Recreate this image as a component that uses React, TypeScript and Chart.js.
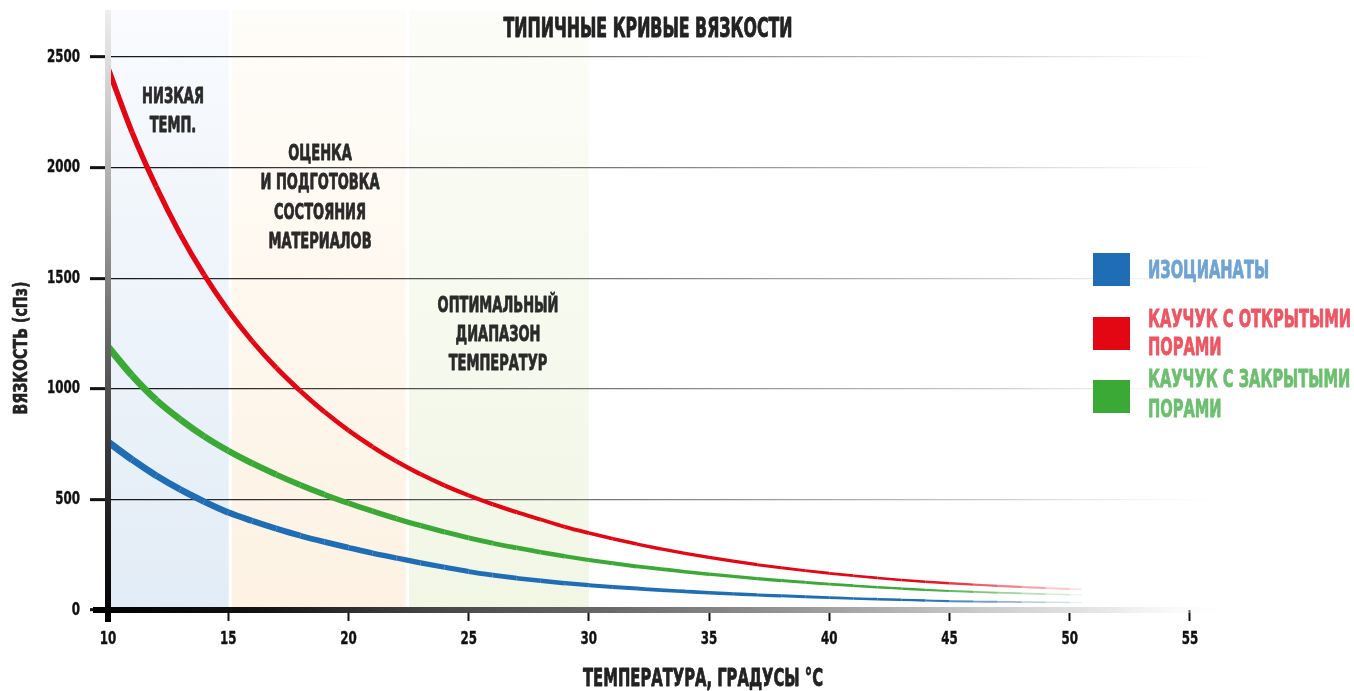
import React, { useEffect, useRef } from "react";
import { Chart, registerables } from "chart.js";

Chart.register(...registerables);

// ---------- data ----------
const temperatures = [
  10, 11, 12, 13, 14, 15, 16, 17, 18, 19, 20, 21, 22, 23, 24, 25, 26, 27, 28, 29, 30,
  31, 32, 33, 34, 35, 36, 37, 38, 39, 40, 41, 42, 43, 44, 45, 46, 47, 48, 49, 50, 50.5,
];
const isocyanates = [
  760, 680, 608, 545, 490, 441, 403, 368, 336, 308, 282, 257, 235, 213, 193, 174, 158, 144, 132, 121, 112,
  104, 97, 90, 84, 78, 73, 68, 64, 60, 56, 52, 49, 46, 43, 40, 38, 37, 36, 35, 34, 34,
];
const openCellRubber = [
  2450, 2160, 1915, 1700, 1515, 1354, 1215, 1095, 990, 896, 812, 738, 672, 614, 563, 518, 478, 442, 409, 376, 348,
  322, 298, 276, 256, 238, 221, 205, 191, 178, 166, 155, 145, 136, 128, 121, 115, 109, 104, 99, 95, 93,
];
const closedCellRubber = [
  1190, 1060, 950, 862, 785, 720, 663, 612, 565, 522, 483, 447, 413, 382, 353, 326, 302, 281, 261, 243, 226,
  211, 197, 185, 173, 162, 152, 142, 133, 125, 117, 110, 103, 97, 91, 86, 82, 78, 75, 72, 69, 68,
];
const xTickValues = [10, 15, 20, 25, 30, 35, 40, 45, 50, 55];
const yTickValues = [0, 500, 1000, 1500, 2000, 2500];
const bandStarts = [10, 15.15, 22.52];
const bandEnds = [15.02, 22.38, 30];
const bandLabels = [
  ["НИЗКАЯ", "ТЕМП."],
  ["ОЦЕНКА", "И ПОДГОТОВКА", "СОСТОЯНИЯ", "МАТЕРИАЛОВ"],
  ["ОПТИМАЛЬНЫЙ", "ДИАПАЗОН", "ТЕМПЕРАТУР"],
];
const seriesNames = [
  ["ИЗОЦИАНАТЫ"],
  ["КАУЧУК С ОТКРЫТЫМИ", "ПОРАМИ"],
  ["КАУЧУК С ЗАКРЫТЫМИ", "ПОРАМИ"],
];
const chartTitle = "ТИПИЧНЫЕ КРИВЫЕ ВЯЗКОСТИ";
const xTitle = "ТЕМПЕРАТУРА, ГРАДУСЫ °С";
const yTitle = "ВЯЗКОСТЬ (сПз)";

// ---------- styles ----------
const FONT = '"Liberation Sans Narrow", "DejaVu Sans Condensed", "Liberation Sans", sans-serif';
const LINE_RGB: [number, number, number][] = [
  [31, 109, 181],
  [227, 6, 19],
  [58, 169, 53],
];
const SWATCH = ["#1f6db5", "#e30613", "#3aa935"];
const LEGEND_TEXT = ["#6ea3d4", "#ee5562", "#6bbf6e"];
const BAND_COLORS = [
  ["#f9fbfe", "#e2ecf6"],
  ["#fffdf9", "#fdf2e3"],
  ["#fcfdf8", "#f1f6e5"],
];

function segStyle(rgb: [number, number, number], w0: number, slope: number) {
  const mid = (c: any) => (c.p0.parsed.x + c.p1.parsed.x) / 2;
  return {
    borderWidth: (c: any) => Math.max(1.3, w0 - slope * (mid(c) - 10)),
    borderColor: (c: any) => {
      const t = mid(c);
      const a = t < 44 ? 1 : Math.max(0.1, 1 - (t - 44) / 7);
      return `rgba(${rgb[0]},${rgb[1]},${rgb[2]},${a})`;
    },
  };
}

function measure(ctx: CanvasRenderingContext2D, s: string, size: number) {
  ctx.font = `bold ${size}px ${FONT}`;
  return ctx.measureText(s).width;
}

function fitRatio(ctx: CanvasRenderingContext2D, sample: string, size: number, target: number) {
  return Math.min(1, target / measure(ctx, sample, size));
}

function text(
  ctx: CanvasRenderingContext2D,
  s: string,
  x: number,
  y: number,
  size: number,
  color: string,
  align: CanvasTextAlign,
  ratio: number,
  heavy = 0.7
) {
  const w = measure(ctx, s, size);
  ctx.fillStyle = color;
  ctx.strokeStyle = color;
  ctx.lineJoin = "round";
  ctx.textAlign = align;
  ctx.textBaseline = "middle";
  ctx.fillText(s, x, y, w * ratio);
  if (heavy > 0) {
    ctx.lineWidth = heavy;
    ctx.strokeText(s, x, y, w * ratio);
  }
}

const decorPlugin = {
  id: "decor",
  beforeDraw(chart: any) {
    const { ctx, scales } = chart;
    const xs = scales.x;
    const ys = scales.y;
    const top = 10;
    const bottom = ys.getPixelForValue(0);
    ctx.save();
    bandStarts.forEach((s, i) => {
      const x0 = xs.getPixelForValue(s);
      const x1 = xs.getPixelForValue(bandEnds[i]);
      const g = ctx.createLinearGradient(0, top, 0, bottom);
      g.addColorStop(0, BAND_COLORS[i][0]);
      g.addColorStop(1, BAND_COLORS[i][1]);
      ctx.fillStyle = g;
      ctx.fillRect(x0, top, x1 - x0, bottom - top);
    });
    ctx.restore();
  },
  afterDatasetsDraw(chart: any) {
    const { ctx, scales } = chart;
    const xs = scales.x;
    const ys = scales.y;
    const x0 = xs.getPixelForValue(10);
    const y0 = ys.getPixelForValue(0);
    ctx.save();
    // x axis bar
    const gx = ctx.createLinearGradient(x0 - 15, 0, 1240, 0);
    gx.addColorStop(0, "#000");
    gx.addColorStop(0.14, "#111");
    gx.addColorStop(0.29, "#444");
    gx.addColorStop(0.44, "#666");
    gx.addColorStop(0.62, "#999");
    gx.addColorStop(0.79, "#d0d0d0");
    gx.addColorStop(0.88, "#e6e6e6");
    gx.addColorStop(1, "rgba(255,255,255,0)");
    ctx.fillStyle = gx;
    ctx.fillRect(x0 - 15, y0 - 3, 1240 - (x0 - 15), 6);
    // y axis bar
    const gy = ctx.createLinearGradient(0, 10, 0, y0 + 12);
    gy.addColorStop(0, "#eeeeee");
    gy.addColorStop(0.1, "#d8d8d8");
    gy.addColorStop(0.3, "#aaaaaa");
    gy.addColorStop(0.6, "#555555");
    gy.addColorStop(0.85, "#1a1a1a");
    gy.addColorStop(1, "#000");
    ctx.fillStyle = gy;
    ctx.fillRect(x0 - 3, 10, 6, y0 + 12 - 10);
    ctx.restore();
  },
  afterDraw(chart: any) {
    const { ctx, scales } = chart;
    const xs = scales.x;
    const ys = scales.y;
    ctx.save();
    // tick labels (values from the scales)
    const tickR = fitRatio(ctx, "2500", 18, 33);
    xs.ticks.forEach((t: any) => {
      text(ctx, String(t.value), xs.getPixelForValue(t.value), 639, 18, "#111", "center", tickR, 0.4);
    });
    ys.ticks.forEach((t: any) => {
      text(ctx, String(t.value), 80, ys.getPixelForValue(t.value), 18, "#111", "right", tickR, 0.4);
    });
    // title
    text(ctx, chartTitle, 648, 30, 27, "#222", "center", fitRatio(ctx, chartTitle, 27, 289), 0.9);
    // band labels
    const bandR = fitRatio(ctx, "И ПОДГОТОВКА", 22, 119);
    const bandX = [173, 320, 498];
    const bandY = [97, 154.5, 306];
    bandLabels.forEach((lines, i) => {
      lines.forEach((ln, j) => text(ctx, ln, bandX[i], bandY[i] + j * 29.2, 22, "#2a2a2a", "center", bandR, 0.8));
    });
    // axis titles
    text(ctx, xTitle, 703, 679, 25, "#222", "center", fitRatio(ctx, xTitle, 25, 240), 0.8);
    ctx.save();
    ctx.translate(22, 348);
    ctx.rotate(-Math.PI / 2);
    text(ctx, yTitle, 0, 0, 20, "#222", "center", fitRatio(ctx, yTitle, 20, 133), 0.6);
    ctx.restore();
    // legend
    const legR = fitRatio(ctx, "КАУЧУК С ОТКРЫТЫМИ", 25, 203);
    const swatchTop = [253, 317, 380];
    const legendY = [[271.5], [320, 348.5], [380.5, 410]];
    seriesNames.forEach((lines, i) => {
      ctx.fillStyle = SWATCH[i];
      ctx.fillRect(1093, swatchTop[i], 37, 33);
      lines.forEach((ln, j) => text(ctx, ln, 1148, legendY[i][j], 25, LEGEND_TEXT[i], "left", legR, 0.8));
    });
    ctx.restore();
  },
};

export default function App() {
  const ref = useRef<HTMLCanvasElement>(null);
  useEffect(() => {
    const canvas = ref.current!;
    const pts = (arr: number[]) => temperatures.map((t, i) => ({ x: t, y: arr[i] }));
    let gridGrad: any = null;
    const chart = new Chart(canvas, {
      type: "line",
      data: {
        datasets: [
          {
            label: seriesNames[0].join(" "),
            data: pts(isocyanates),
            borderColor: SWATCH[0],
            borderWidth: 7,
            pointRadius: 0,
            cubicInterpolationMode: "monotone",
            segment: segStyle(LINE_RGB[0], 7, 0.14),
          },
          {
            label: seriesNames[1].join(" "),
            data: pts(openCellRubber),
            borderColor: SWATCH[1],
            borderWidth: 5.5,
            pointRadius: 0,
            cubicInterpolationMode: "monotone",
            segment: segStyle(LINE_RGB[1], 5.5, 0.09),
          },
          {
            label: seriesNames[2].join(" "),
            data: pts(closedCellRubber),
            borderColor: SWATCH[2],
            borderWidth: 7,
            pointRadius: 0,
            cubicInterpolationMode: "monotone",
            segment: segStyle(LINE_RGB[2], 7, 0.14),
          },
        ],
      } as any,
      options: {
        responsive: false,
        animation: false,
        devicePixelRatio: 1,
        layout: { padding: { top: 57, right: 116, bottom: 0, left: 0 } },
        plugins: { legend: { display: false }, tooltip: { enabled: false } },
        scales: {
          x: {
            type: "linear",
            min: 10,
            max: 57,
            afterFit: (s: any) => {
              s.height = 81;
            },
            afterBuildTicks: (s: any) => {
              s.ticks = xTickValues.map((v) => ({ value: v }));
            },
            border: { display: false },
            grid: {
              drawOnChartArea: false,
              drawTicks: true,
              tickLength: 11,
              tickWidth: 2,
              tickColor: "#111",
            },
            ticks: { display: false, autoSkip: false },
          },
          y: {
            type: "linear",
            min: 0,
            max: 2500,
            afterFit: (s: any) => {
              s.width = 108;
            },
            afterBuildTicks: (s: any) => {
              s.ticks = yTickValues.map((v) => ({ value: v }));
            },
            border: { display: false },
            grid: {
              drawTicks: true,
              tickLength: 18,
              tickWidth: 3,
              tickColor: "#111",
              lineWidth: 1.3,
              color: (c: any) => {
                if (c.index === 0) return "rgba(0,0,0,0)";
                const area = c.chart.chartArea;
                if (!area) return "#888";
                if (!gridGrad) {
                  const g = c.chart.ctx.createLinearGradient(area.left, 0, 1225, 0);
                  g.addColorStop(0, "rgba(20,20,20,1)");
                  g.addColorStop(0.45, "rgba(120,120,120,1)");
                  g.addColorStop(0.8, "rgba(205,205,205,1)");
                  g.addColorStop(1, "rgba(235,235,235,0)");
                  gridGrad = g;
                }
                return gridGrad;
              },
            },
            ticks: { display: false, autoSkip: false },
          },
        },
      } as any,
      plugins: [decorPlugin],
    });
    return () => chart.destroy();
  }, []);
  return (
    <div style={{ position: "fixed", left: 0, top: 0, width: 1354, height: 691, background: "#fff" }}>
      <canvas ref={ref} width={1354} height={691} style={{ display: "block", width: 1354, height: 691 }} />
    </div>
  );
}
